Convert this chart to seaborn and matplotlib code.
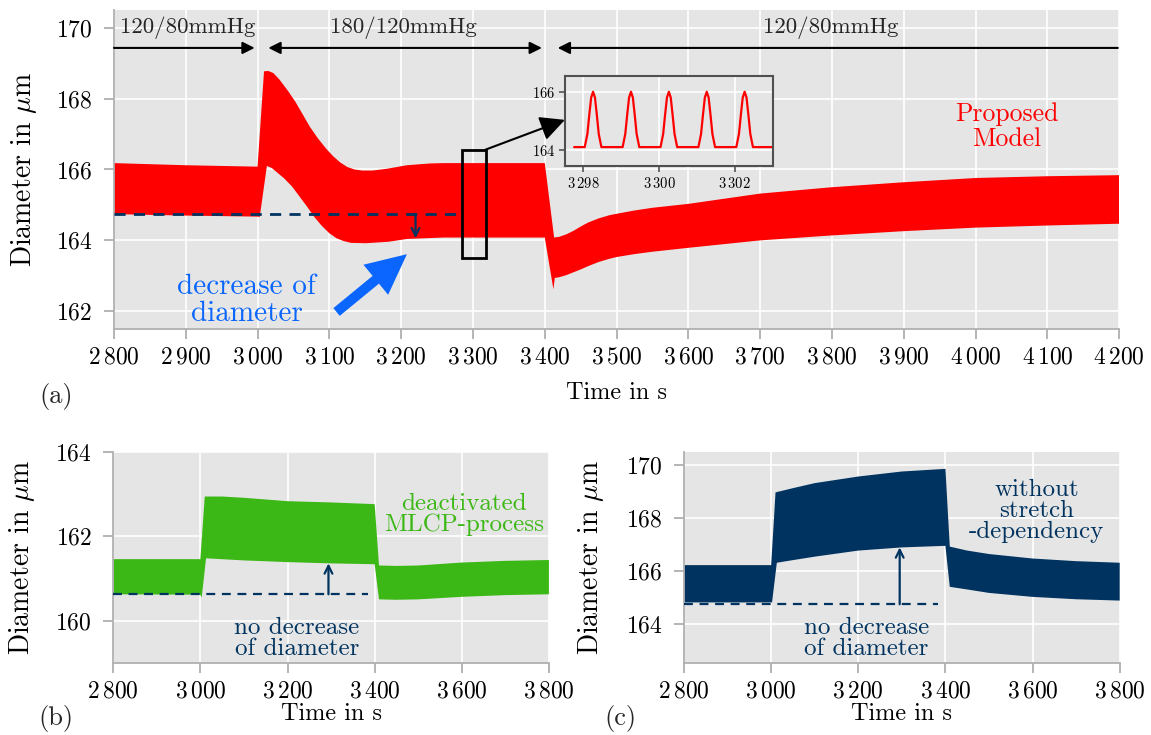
import numpy as np
import matplotlib
matplotlib.use("Agg")
import matplotlib.pyplot as plt
import seaborn as sns
from matplotlib.patches import Rectangle
from matplotlib.ticker import FuncFormatter, MultipleLocator

# ---- data ----
# (a) proposed model, upper / lower envelope of the pulsating diameter
a_up_t = [2800, 2900, 3000, 3009, 3015, 3022, 3030, 3043, 3053, 3063, 3073, 3084, 3095, 3105, 3115, 3125,
          3135, 3146, 3160, 3180, 3208, 3240, 3259, 3400, 3413, 3420, 3430, 3440, 3450, 3460, 3475, 3490,
          3500, 3524, 3550, 3600, 3700, 3800, 3900, 4000, 4100, 4200]
a_up = [166.18, 166.12, 166.08, 168.77, 168.78, 168.72, 168.55, 168.2, 167.9, 167.55, 167.2, 166.88, 166.6,
        166.38, 166.2, 166.07, 166.0, 165.97, 165.97, 166.02, 166.12, 166.17, 166.18, 166.18, 164.08, 164.1,
        164.17, 164.27, 164.39, 164.5, 164.62, 164.71, 164.75, 164.84, 164.92, 165.03, 165.32, 165.50,
        165.64, 165.76, 165.81, 165.84]
a_lo_t = [2800, 2900, 3000, 3003, 3013, 3020, 3027, 3037, 3048, 3058, 3069, 3079, 3089, 3100, 3110, 3120,
          3130, 3151, 3182, 3208, 3259, 3400, 3412, 3414, 3420, 3430, 3440, 3450, 3460, 3475, 3490, 3500,
          3524, 3550, 3600, 3700, 3800, 3900, 4000, 4100, 4200]
a_lo = [164.74, 164.70, 164.67, 164.66, 166.1, 166.04, 165.92, 165.75, 165.52, 165.25, 164.95, 164.66,
        164.42, 164.2, 164.06, 163.98, 163.93, 163.92, 163.96, 164.04, 164.08, 164.08, 162.62, 162.94,
        162.96, 163.02, 163.1, 163.18, 163.27, 163.39, 163.48, 163.53, 163.61, 163.68, 163.79, 164.0,
        164.14, 164.26, 164.36, 164.42, 164.47]
a_base = 164.75

# inset: single beats around t = 3300 s
beat_peaks = [3298.26, 3299.26, 3300.26, 3301.26, 3302.26]
pulse_dt = [-0.5, -0.22, -0.15, -0.1, -0.05, 0.0, 0.05, 0.1, 0.15, 0.22]
pulse_d = [164.1, 164.1, 164.55, 165.2, 165.8, 166.0, 165.8, 165.2, 164.55, 164.1]

# (b) deactivated MLCP-process
b_up_t = [2800, 3000, 3010, 3050, 3100, 3200, 3300, 3400, 3410, 3450, 3500, 3600, 3700, 3800]
b_up = [161.46, 161.46, 162.94, 162.94, 162.91, 162.83, 162.80, 162.76, 161.31, 161.30, 161.31, 161.38,
        161.42, 161.44]
b_lo_t = [2800, 3000, 3003, 3013, 3100, 3200, 3300, 3400, 3410, 3450, 3500, 3600, 3700, 3800]
b_lo = [160.63, 160.62, 160.55, 161.48, 161.43, 161.39, 161.36, 161.34, 160.51, 160.50, 160.51, 160.57,
        160.61, 160.63]
b_base = 160.63

# (c) without stretch-dependency
c_up_t = [2800, 3000, 3010, 3050, 3100, 3200, 3300, 3400, 3410, 3450, 3500, 3600, 3700, 3800]
c_up = [166.21, 166.21, 168.96, 169.12, 169.31, 169.56, 169.75, 169.85, 166.91, 166.76, 166.63, 166.46,
        166.36, 166.30]
c_lo_t = [2800, 3002, 3013, 3050, 3100, 3200, 3300, 3400, 3410, 3450, 3500, 3600, 3700, 3800]
c_lo = [164.80, 164.80, 166.30, 166.40, 166.53, 166.76, 166.88, 166.94, 165.39, 165.29, 165.16, 165.01,
        164.92, 164.87]
c_base = 164.73

RED = '#ff0000'
GREEN = '#3cb816'
NAVY = '#00335f'
BLUE = '#0a66ff'

sns.set_theme(style='darkgrid', rc={
    'axes.facecolor': '#e5e5e5',
    'grid.color': 'white',
    'grid.linewidth': 1.2,
    'axes.edgecolor': '#b0b0b0',
    'axes.linewidth': 1.3,
    'xtick.bottom': True,
    'ytick.left': True,
    'xtick.color': '#a8a8a8',
    'ytick.color': '#a8a8a8',
    'xtick.major.size': 7.5,
    'ytick.major.size': 7.5,
    'xtick.major.width': 1.2,
    'ytick.major.width': 1.2,
    'xtick.major.pad': 5,
    'ytick.major.pad': 8,
    'xtick.labelcolor': 'black',
    'ytick.labelcolor': 'black',
})
plt.rcParams['font.family'] = ['cmr10', 'DejaVu Serif']
plt.rcParams['mathtext.fontset'] = 'cm'
plt.rcParams['axes.unicode_minus'] = False

TICK = 17
LAB = 20


def thou(x, pos):
    x = int(round(x))
    if x >= 1000:
        return r'$%d\,%03d$' % (x // 1000, x % 1000)
    return r'$%d$' % x


def style_axes(ax, xstep, ylim, yticks, xlim, ylab_x):
    ax.set_xlim(*xlim)
    ax.set_ylim(*ylim)
    ax.xaxis.set_major_locator(MultipleLocator(xstep))
    ax.set_yticks(yticks)
    ax.xaxis.set_major_formatter(FuncFormatter(thou))
    ax.yaxis.set_major_formatter(FuncFormatter(thou))
    ax.tick_params(labelsize=TICK)
    for s in ['top', 'right']:
        ax.spines[s].set_visible(False)
    ax.set_xlabel('Time in s', fontsize=17.5, color='black')
    ax.set_ylabel(r'Diameter in $\mu$m', fontsize=LAB, color='black')
    ax.yaxis.set_label_coords(ylab_x, 0.5)


def band(ax, tu, u, tl, l, color):
    xs = np.r_[tu, tl[::-1]]
    ys = np.r_[u, l[::-1]]
    ax.fill(xs, ys, color=color, lw=0, zorder=2)


fig = plt.figure(figsize=(11.51, 7.35), dpi=100)
ax_a = fig.add_axes([0.0990, 0.5524, 0.8734, 0.4340])
ax_b = fig.add_axes([0.0984, 0.0976, 0.3785, 0.2879])
ax_c = fig.add_axes([0.5943, 0.0976, 0.3785, 0.2879])

# ---------------- (a) ----------------
band(ax_a, a_up_t, a_up, a_lo_t, a_lo, RED)
sns.lineplot(x=[2800, 3283], y=[a_base, a_base], ax=ax_a, color=NAVY, lw=2, zorder=3)
ax_a.lines[-1].set_dashes((4, 3))
ax_a.annotate('', xy=(3220, 164.06), xytext=(3220, a_base),
              arrowprops=dict(arrowstyle='->', color=NAVY, lw=1.6, shrinkA=0, shrinkB=0, mutation_scale=14))
style_axes(ax_a, 100, (161.5, 170.5), [162, 164, 166, 168, 170], (2800, 4200), -0.075)
ax_a.xaxis.labelpad = 10

# pressure phases
arr = dict(color='black', lw=1.5, shrinkA=0, shrinkB=0, mutation_scale=18)
ax_a.annotate('', xy=(2996, 169.43), xytext=(2800, 169.43), arrowprops=dict(arrowstyle='-|>', **arr))
ax_a.annotate('', xy=(3396, 169.43), xytext=(3015, 169.43), arrowprops=dict(arrowstyle='<|-|>', **arr))
ax_a.annotate('', xy=(3418, 169.43), xytext=(4198, 169.43), arrowprops=dict(arrowstyle='-|>', **arr))
ax_a.text(2903, 170.0, '120/80mmHg', fontsize=16.5, ha='center', va='center')
ax_a.text(3203, 170.0, '180/120mmHg', fontsize=16.5, ha='center', va='center')
ax_a.text(3798, 170.0, '120/80mmHg', fontsize=16.5, ha='center', va='center')

ax_a.text(4043, 167.2, 'Proposed\nModel', color=RED, fontsize=18.5, ha='center', va='center',
          linespacing=1.05)
ax_a.text(2985, 162.31, 'decrease of\ndiameter', color=BLUE, fontsize=21, ha='center', va='center',
          linespacing=1.0)
ax_a.annotate('', xy=(3208, 163.61), xytext=(3110, 161.98),
              arrowprops=dict(arrowstyle='simple,head_length=1.45,head_width=1.4,tail_width=0.36',
                              color=BLUE, lw=0, shrinkA=0, shrinkB=0, mutation_scale=20))
ax_a.add_patch(Rectangle((3284.5, 163.49), 33, 3.07, fill=False, ec='black', lw=2, zorder=4))
ax_a.annotate('', xy=(3428, 167.4), xytext=(3317.5, 166.56),
              arrowprops=dict(arrowstyle='-|>,head_length=0.6,head_width=0.3', color='black', lw=1.5,
                              shrinkA=0, shrinkB=0, mutation_scale=25))

# inset
ax_i = fig.add_axes([0.4909, 0.7741, 0.1804, 0.1229])
ins_t = np.concatenate([np.array(pulse_dt) + p for p in beat_peaks] + [[3303.1]])
ins_d = np.concatenate([pulse_d for p in beat_peaks] + [[164.1]])
sns.lineplot(x=ins_t, y=ins_d, ax=ax_i, color=RED, lw=1.6, sort=False)
ax_i.set_xlim(3297.52, 3303.0)
ax_i.set_ylim(163.45, 166.55)
ax_i.set_xticks([3298, 3300, 3302])
ax_i.set_yticks([164, 166])
ax_i.xaxis.set_major_formatter(FuncFormatter(thou))
ax_i.yaxis.set_major_formatter(FuncFormatter(thou))
ax_i.tick_params(labelsize=10.5, colors='#555555', labelcolor='black', length=4, pad=3)
for s in ax_i.spines.values():
    s.set_visible(True)
    s.set_color('#505050')
    s.set_linewidth(1.5)
ax_i.set_xlabel('')
ax_i.set_ylabel('')

# ---------------- (b) ----------------
band(ax_b, b_up_t, b_up, b_lo_t, b_lo, GREEN)
sns.lineplot(x=[2800, 3385], y=[b_base, b_base], ax=ax_b, color=NAVY, lw=1.6, zorder=3)
ax_b.lines[-1].set_dashes((4, 3))
ax_b.annotate('', xy=(3294, 161.36), xytext=(3294, b_base),
              arrowprops=dict(arrowstyle='->', color=NAVY, lw=1.6, shrinkA=0, shrinkB=0, mutation_scale=14))
style_axes(ax_b, 200, (159, 164), [160, 162, 164], (2800, 3800), -0.176)
ax_b.xaxis.labelpad = 0
ax_b.text(3605, 162.52, 'deactivated\nMLCP-process', color=GREEN, fontsize=18, ha='center',
          va='center', linespacing=0.95)
ax_b.text(3222, 159.59, 'no decrease\nof diameter', color=NAVY, fontsize=18, ha='center', va='center',
          linespacing=0.95)

# ---------------- (c) ----------------
band(ax_c, c_up_t, c_up, c_lo_t, c_lo, NAVY)
sns.lineplot(x=[2800, 3384], y=[c_base, c_base], ax=ax_c, color=NAVY, lw=1.6, zorder=3)
ax_c.lines[-1].set_dashes((4, 3))
ax_c.annotate('', xy=(3295, 166.88), xytext=(3295, c_base),
              arrowprops=dict(arrowstyle='->', color=NAVY, lw=1.6, shrinkA=0, shrinkB=0, mutation_scale=14))
style_axes(ax_c, 200, (162.5, 170.5), [164, 166, 168, 170], (2800, 3800), -0.178)
ax_c.xaxis.labelpad = 0
ax_c.text(3609, 168.26, 'without\nstretch\n-dependency', color=NAVY, fontsize=18, ha='center',
          va='center', linespacing=0.95)
ax_c.text(3218, 163.45, 'no decrease\nof diameter', color=NAVY, fontsize=18, ha='center', va='center',
          linespacing=0.95)

fig.text(56 / 1151, 1 - 397 / 735, '(a)', fontsize=19, ha='center', va='center')
fig.text(56 / 1151, 1 - 718 / 735, '(b)', fontsize=19, ha='center', va='center')
fig.text(620 / 1151, 1 - 718 / 735, '(c)', fontsize=19, ha='center', va='center')

fig.savefig('out.png', dpi=100)
